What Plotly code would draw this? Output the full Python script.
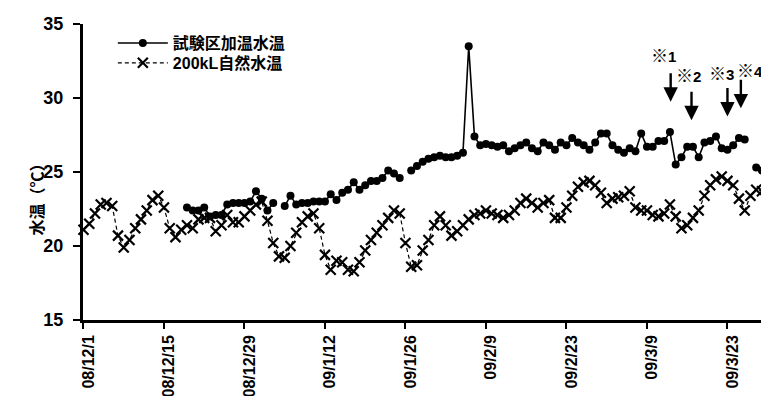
import plotly.graph_objects as go
import pandas as pd

# ---- data -------------------------------------------------------------
start_date = "2008-12-01"
n_days = 121
dates = pd.date_range(start_date, periods=n_days, freq="D")

heated_name = "試験区加温水温"
natural_name = "200kL自然水温"

heated = [None] * 18 + [
    22.6, 22.4, 22.4, 22.6, 22.0, 22.1, 22.1, 22.8, 22.9, 22.9,
    22.9, 23.0, 23.7, 23.2, 22.4, 22.9, None, 22.7, 23.4, 22.8,
    22.9, 22.9, 23.0, 23.0, 23.0, 23.5, 23.1, 23.6, 23.8, 24.3,
    23.8, 24.1, 24.4, 24.4, 24.6, 25.1, 24.9, 24.6, None, 25.1,
    25.4, 25.7, 25.9, 26.0, 26.1, 26.0, 26.0, 26.1, 26.3, 33.5,
    27.4, 26.8, 26.9, 26.8, 26.7, 26.8, 26.4, 26.6, 26.8, 27.0,
    26.6, 26.4, 27.0, 26.8, 26.5, 27.0, 26.8, 27.3, 27.0, 26.8,
    26.5, 27.0, 27.6, 27.6, 26.8, 26.5, 26.3, 26.6, 26.4, 27.6,
    26.7, 26.7, 27.1, 27.1, 27.7, 25.5, 26.0, 26.7, 26.7, 26.0,
    27.0, 27.1, 27.4, 26.6, 26.5, 26.8, 27.3, 27.2, None, 25.3,
    25.1, None, None,
]

natural = [
    21.1, 21.5, 22.2, 22.8, 22.9, 22.7, 20.7, 19.9, 20.4, 21.2,
    21.8, 22.4, 23.1, 23.4, 22.6, 21.2, 20.6, 21.1, 21.4, 21.2,
    21.8, 21.9, 21.9, 21.0, 21.4, 22.1, 21.6, 21.6, 22.0, 22.4,
    22.8, 23.0, 21.7, 20.2, 19.3, 19.2, 20.0, 20.9, 21.6, 22.0,
    22.2, 21.2, 19.4, 18.4, 19.0, 18.9, 18.4, 18.3, 18.9, 19.7,
    20.4, 20.9, 21.4, 21.9, 22.4, 22.2, 20.2, 18.6, 18.7, 19.7,
    20.4, 21.4, 22.0, 21.4, 20.7, 21.0, 21.4, 21.8, 22.1, 22.2,
    22.4, 22.2, 22.1, 21.9, 22.1, 22.4, 22.9, 23.2, 22.9, 22.6,
    22.9, 23.1, 21.9, 21.9, 22.6, 23.4, 24.0, 24.3, 24.4, 24.1,
    23.6, 22.9, 23.2, 23.3, 23.4, 23.7, 22.6, 22.4, 22.4, 22.1,
    22.0, 22.2, 22.8, 22.0, 21.2, 21.4, 21.9, 22.4, 23.4, 24.1,
    24.5, 24.7, 24.4, 24.1, 23.2, 22.4, 23.4, 23.8, 23.7, 23.4,
    23.2,
]

tick_dates = ["2008-12-01", "2008-12-15", "2008-12-29", "2009-01-12",
              "2009-01-26", "2009-02-09", "2009-02-23", "2009-03-09",
              "2009-03-23"]
tick_labels = ["08/12/1", "08/12/15", "08/12/29", "09/1/12", "09/1/26",
               "09/2/9", "09/2/23", "09/3/9", "09/3/23"]

y_ticks = [15, 20, 25, 30, 35]

note_labels = ["※1", "※2", "※3", "※4"]
note_dates = ["2009-03-13 03:00", "2009-03-16 18:00", "2009-03-23 00:00",
              "2009-03-25 08:00"]
note_tip_values = [29.75, 28.5, 28.75, 29.3]
note_label_dates = ["2009-03-11 20:00", "2009-03-16 04:00",
                    "2009-03-22 00:00", "2009-03-26 22:00"]
note_label_values = [32.95, 31.6, 31.7, 31.95]

y_title = "水温（℃）"

# ---- figure -----------------------------------------------------------
FONT = "Liberation Sans, Arial, Noto Sans CJK JP, sans-serif"
CJK = "Noto Sans CJK JP, Liberation Sans, sans-serif"

fig = go.Figure()
fig.add_trace(go.Scatter(
    x=dates, y=heated, name=heated_name, mode="lines+markers",
    line=dict(color="black", width=1.6),
    marker=dict(symbol="circle", size=8, color="black"),
    connectgaps=False, cliponaxis=False, legend="legend",
))
fig.add_trace(go.Scatter(
    x=dates, y=natural, name=natural_name, mode="lines+markers",
    line=dict(color="black", width=1.2, dash="4px,3px"),
    marker=dict(symbol="x-thin", size=10,
                line=dict(color="black", width=2.2), color="black"),
    cliponaxis=False, legend="legend2",
))

annotations = []
for d, v in zip(note_dates, note_tip_values):
    annotations.append(dict(
        x=d, y=v, xref="x", yref="y", text="", showarrow=True,
        ax=0, ay=-30, arrowhead=2, arrowsize=1.2, arrowwidth=2.4,
        arrowcolor="black",
    ))
for t, d, v in zip(note_labels, note_label_dates, note_label_values):
    mark, num = t[0], t[1:]
    annotations.append(dict(
        x=d, y=v, xref="x", yref="y",
        text=f"<span style='font-family:{CJK};font-size:17px'><b>{mark}</b></span>{num}",
        showarrow=False,
        font=dict(family=FONT, size=15, color="black", weight="bold"),
    ))
annotations.append(dict(
    x=-0.088, y=0.42, xref="paper", yref="paper", text=y_title,
    textangle=-90, showarrow=False,
    font=dict(family=CJK, size=16, color="black", weight="bold"),
))

legend_common = dict(
    xanchor="left", yanchor="top", bgcolor="rgba(0,0,0,0)", itemwidth=50,
    font=dict(family=FONT, size=16, color="black", weight="bold"),
)

fig.update_layout(
    width=769, height=396,
    margin=dict(l=75, r=0, t=16, b=84),
    paper_bgcolor="white", plot_bgcolor="white",
    showlegend=True,
    legend=dict(x=0.043, y=0.993, **legend_common),
    legend2=dict(x=0.043, y=0.926, **legend_common),
    annotations=annotations,
)
fig.update_xaxes(
    type="date",
    range=["2008-11-30 22:00", "2009-03-31 14:50"],
    tickvals=tick_dates, ticktext=tick_labels, tickangle=-90,
    ticklabelshift=5,
    ticks="outside", ticklen=6, tickwidth=2, tickcolor="black",
    showline=True, linecolor="black", linewidth=2.5,
    showgrid=False, zeroline=False,
    tickfont=dict(family=FONT, size=16, color="black", weight="bold"),
)
fig.update_yaxes(
    range=[15, 35], tickvals=y_ticks,
    ticks="outside", ticklen=7, tickwidth=2, tickcolor="black",
    showline=True, linecolor="black", linewidth=3,
    showgrid=False, zeroline=False,
    tickfont=dict(family=FONT, size=18, color="black", weight="bold"),
    ticklabelstandoff=6,
)

fig.write_html("out.html")
